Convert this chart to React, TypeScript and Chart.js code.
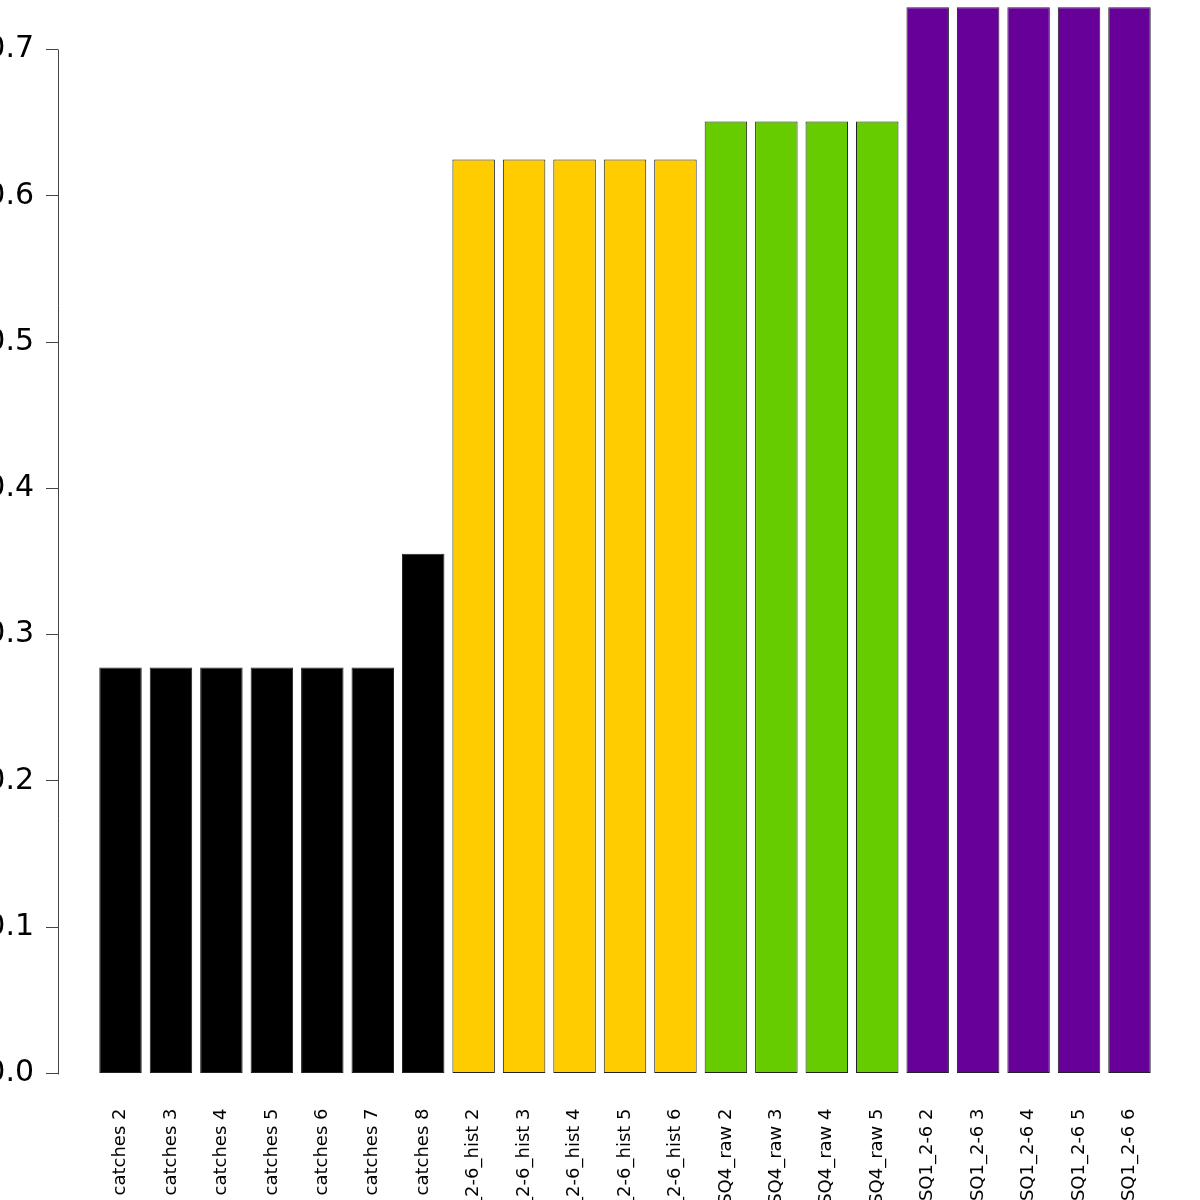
import React, { useEffect, useRef } from "react";
import { Chart, registerables } from "chart.js";

Chart.register(...registerables);

const categories = [
  "catches 2", "catches 3", "catches 4", "catches 5", "catches 6", "catches 7", "catches 8",
  "SQ1_2-6_hist 2", "SQ1_2-6_hist 3", "SQ1_2-6_hist 4", "SQ1_2-6_hist 5", "SQ1_2-6_hist 6",
  "SQ4_raw 2", "SQ4_raw 3", "SQ4_raw 4", "SQ4_raw 5",
  "SQ1_2-6 2", "SQ1_2-6 3", "SQ1_2-6 4", "SQ1_2-6 5", "SQ1_2-6 6",
];

const values = [
  0.2775, 0.2775, 0.2775, 0.2775, 0.2775, 0.2775, 0.3553,
  0.6248, 0.6248, 0.6248, 0.6248, 0.6248,
  0.6508, 0.6508, 0.6508, 0.6508,
  0.7289, 0.7289, 0.7289, 0.7289, 0.7289,
];

const barColors = [
  "#000000", "#000000", "#000000", "#000000", "#000000", "#000000", "#000000",
  "#FFCC00", "#FFCC00", "#FFCC00", "#FFCC00", "#FFCC00",
  "#66CC00", "#66CC00", "#66CC00", "#66CC00",
  "#660099", "#660099", "#660099", "#660099", "#660099",
];

const yTicks = [0, 0.1, 0.2, 0.3, 0.4, 0.5, 0.6, 0.7];

export default function App() {
  const ref = useRef<HTMLCanvasElement>(null);

  useEffect(() => {
    if (!ref.current) return;
    Chart.defaults.font.family = "'DejaVu Sans', sans-serif";

    const axisLine = {
      id: "axisLine",
      afterDraw(chart: any) {
        const ys = chart.scales.y;
        const ctx = chart.ctx;
        const x = Math.round(chart.chartArea.left) + 0.5;
        ctx.save();
        ctx.strokeStyle = "#444";
        ctx.lineWidth = 1;
        ctx.beginPath();
        ctx.moveTo(x, Math.round(ys.getPixelForValue(yTicks[0])) + 0.5);
        ctx.lineTo(x, Math.round(ys.getPixelForValue(yTicks[yTicks.length - 1])) + 0.5);
        ctx.stroke();
        ctx.restore();
      },
    };

    const chart = new Chart(ref.current, {
      type: "bar",
      data: {
        datasets: [
          {
            data: values.map((v, i) => ({ x: i, y: v })),
            backgroundColor: barColors,
            borderColor: "#222",
            borderWidth: 1,
            borderSkipped: false,
            categoryPercentage: 1,
            barPercentage: 0.842,
          },
        ],
      },
      options: {
        animation: false,
        responsive: true,
        maintainAspectRatio: false,
        layout: { padding: { left: 0, right: 8, top: 0, bottom: 0 } },
        plugins: { legend: { display: false }, tooltip: { enabled: false } },
        scales: {
          x: {
            type: "linear",
            offset: false,
            min: -1.239,
            max: 21.239,
            grid: { display: false },
            border: { display: false },
            afterBuildTicks: (s: any) => {
              s.ticks = categories.map((_, i) => ({ value: i }));
            },
            afterFit: (s: any) => {
              s.height = 226.5;
              s.paddingLeft = 0;
              s.paddingRight = 0;
            },
            ticks: {
              autoSkip: false,
              minRotation: 90,
              maxRotation: 90,
              padding: 27,
              color: "#000",
              font: { size: 18 },
              callback: (v: any) => categories[v] ?? "",
            },
          },
          y: {
            min: 0,
            max: 0.7338,
            afterBuildTicks: (s: any) => {
              s.ticks = yTicks.map((v) => ({ value: v }));
            },
            afterFit: (s: any) => {
              s.width = 158;
              s.paddingTop = 0;
              s.paddingBottom = 0;
            },
            border: { display: false },
            grid: { drawOnChartArea: false, drawTicks: true, tickLength: 12, color: "#444" },
            ticks: {
              padding: 12,
              color: "#000",
              font: { size: 30 },
              callback: (v: any) => Number(v).toFixed(1),
            },
          },
        },
      },
      plugins: [axisLine],
    } as any);

    return () => chart.destroy();
  }, []);

  return (
    <div style={{ position: "absolute", left: 0, top: 0, width: 1200, height: 1200, overflow: "hidden", background: "#fff" }}>
      <div style={{ position: "absolute", left: -100, top: 0, width: 1300, height: 1300 }}>
        <canvas ref={ref} />
      </div>
    </div>
  );
}
